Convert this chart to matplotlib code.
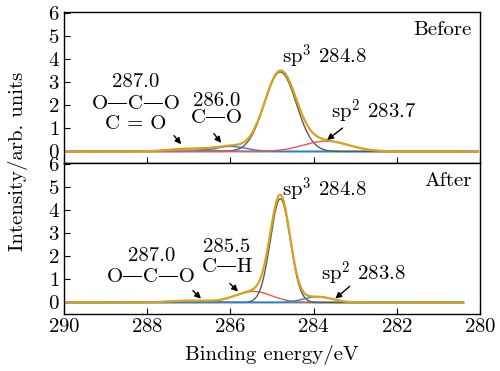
import numpy as np
import matplotlib
matplotlib.use("Agg")
import matplotlib.pyplot as plt

plt.rcParams['font.family'] = ['cmr10', 'DejaVu Serif']
plt.rcParams['mathtext.fontset'] = 'cm'
plt.rcParams['axes.formatter.use_mathtext'] = True
plt.rcParams['font.size'] = 15

# fitted C 1s components: centre (eV), height, FWHM (eV)
before_center = [287.0, 286.0, 284.8, 283.7]
before_height = [0.12, 0.22, 3.45, 0.45]
before_fwhm = [1.1, 0.9, 0.9, 1.3]
before_color = ["#3cb371", "#2e7be0", "#5a5a5a", "#f0505a"]
before_end = 280.05

after_center = [287.0, 285.45, 284.8, 283.9]
after_height = [0.08, 0.48, 4.5, 0.25]
after_fwhm = [1.1, 1.05, 0.56, 0.8]
after_color = ["#3cb371", "#f0505a", "#5a5a5a", "#2e7be0"]
after_end = 280.4

SUM_COLOR = "#d9a21b"
BASE_COLOR = "#2a9d8f"


def peak(x, c, h, w):
    s = w / 2.3548
    return h * np.exp(-0.5 * ((x - c) / s) ** 2)


def draw(ax, centers, heights, fwhms, colors, x_end):
    x = np.linspace(290, x_end, 1200)
    total = np.zeros_like(x)
    ax.plot(x, np.zeros_like(x), color=BASE_COLOR, lw=1.2)
    for c, h, w, col in zip(centers, heights, fwhms, colors):
        y = peak(x, c, h, w)
        total += y
        ax.plot(x, y, color=col, lw=1.0)
    ax.plot(x, total, color=SUM_COLOR, lw=1.6)


fig = plt.figure(figsize=(5.0, 3.71), dpi=100)
ax1 = fig.add_axes([0.128, 0.5606, 0.832, 0.407])
ax2 = fig.add_axes([0.128, 0.1536, 0.832, 0.407])

draw(ax1, before_center, before_height, before_fwhm, before_color, before_end)
draw(ax2, after_center, after_height, after_fwhm, after_color, after_end)

for ax in (ax1, ax2):
    ax.set_xlim(290, 280)
    ax.set_ylim(-0.5, 6.05)
    ax.set_xticks([290, 288, 286, 284, 282, 280])
    ax.set_yticks([0, 1, 2, 3, 4, 5, 6])
    ax.tick_params(direction='in', length=4, width=0.8, pad=3, labelsize=15)
    for sp in ax.spines.values():
        sp.set_linewidth(1.0)
ax1.tick_params(labelbottom=False)

arrow = dict(arrowstyle="-|>", color="black", lw=1.0, mutation_scale=9)

# Before panel
ax1.text(280.2, 5.26, "Before", ha='right', va='center')
ax1.text(283.73, 4.1, "sp$^3$ 284.8", ha='center', va='center')
ax1.text(282.55, 1.7, "sp$^2$ 283.7", ha='center', va='center')
ax1.annotate("", xy=(283.73, 0.43), xytext=(283.25, 1.09), arrowprops=arrow)
ax1.text(288.27, 3.0, "287.0", ha='center', va='center')
ax1.text(288.27, 2.04, "O\u2014C\u2014O", ha='center', va='center')
ax1.text(288.27, 1.2, "C = O", ha='center', va='center')
ax1.annotate("", xy=(287.14, 0.22), xytext=(287.4, 0.78), arrowprops=arrow)
ax1.text(286.32, 2.2, "286.0", ha='center', va='center')
ax1.text(286.32, 1.43, "C\u2014O", ha='center', va='center')
ax1.annotate("", xy=(286.18, 0.28), xytext=(286.44, 0.87), arrowprops=arrow)

# After panel
ax2.text(280.2, 5.26, "After", ha='right', va='center')
ax2.text(283.73, 4.87, "sp$^3$ 284.8", ha='center', va='center')
ax2.text(282.8, 1.26, "sp$^2$ 283.8", ha='center', va='center')
ax2.annotate("", xy=(283.53, 0.09), xytext=(283.08, 0.78), arrowprops=arrow)
ax2.text(287.9, 2.0, "287.0", ha='center', va='center')
ax2.text(287.9, 1.1, "O\u2014C\u2014O", ha='center', va='center')
ax2.annotate("", xy=(286.66, 0.08), xytext=(286.95, 0.6), arrowprops=arrow)
ax2.text(286.08, 2.4, "285.5", ha='center', va='center')
ax2.text(286.08, 1.52, "C\u2014H", ha='center', va='center')
ax2.annotate("", xy=(285.77, 0.39), xytext=(286.06, 0.91), arrowprops=arrow)

fig.text(0.036, 0.565, "Intensity/arb. units", rotation=90, ha='center', va='center', fontsize=15)
fig.text(0.544, 0.043, "Binding energy/eV", ha='center', va='center', fontsize=15)

fig.savefig("out.png", dpi=100)
